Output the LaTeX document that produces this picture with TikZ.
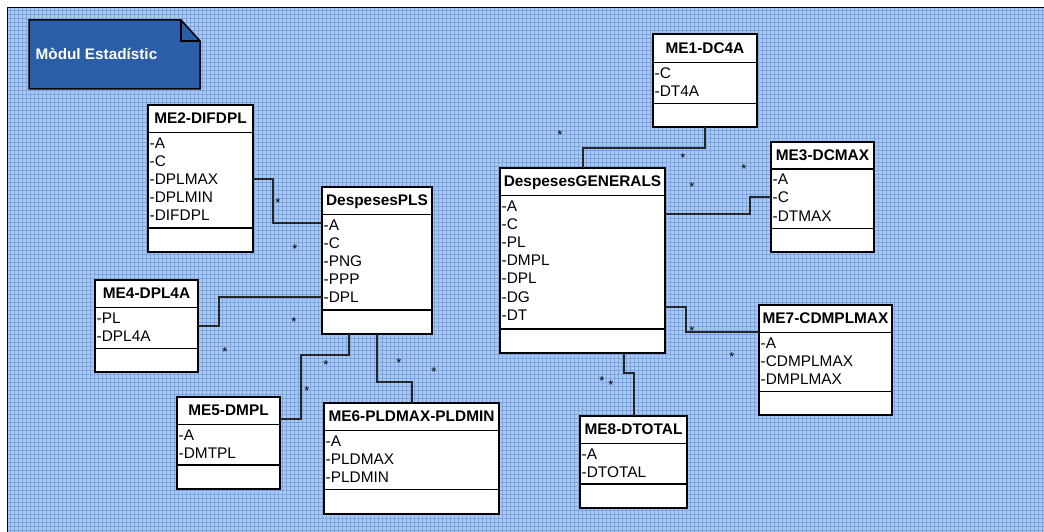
\documentclass[tikz,border=0pt]{standalone}
\usepackage{fontspec}
\setmainfont{Liberation Sans}
\definecolor{bgblue}{RGB}{172,201,241}
\definecolor{gridblue}{RGB}{122,164,228}
\definecolor{notefill}{RGB}{42,94,168}
\tikzset{
  classbox/.style={draw=black, line width=1.4pt, fill=white, inner sep=0pt, outer sep=0pt},
  sepline/.style={draw=black, line width=1.4pt},
  titletxt/.style={font=\bfseries\fontsize{15.4}{18}\selectfont, inner sep=0pt, anchor=base},
  attrtxt/.style={font=\fontsize{15.4}{18}\selectfont, inner sep=0pt, anchor=base west},
  startxt/.style={font=\fontsize{13}{13}\selectfont, inner sep=0pt, anchor=base},
  link/.style={draw=black!85, line width=1.1pt},
  gridln/.style={draw=gridblue, line width=0.9pt},
}
% name, left, top, right, bottom, sep1, sep2, title, attributes
\newcommand{\umlcls}[9]{%
  \node[classbox, minimum width={(#4)-(#2)}, minimum height={(#5)-(#3)}] (#1)
       at ({((#2)+(#4))/2},{((#3)+(#5))/2}) {};
  \draw[sepline] (#2,#6) -- (#4,#6);
  \draw[sepline] (#2,#7) -- (#4,#7);
  \node[titletxt] (#1-t) at ({((#2)+(#4))/2},{((#3)+(#6))/2+5}) {#8};
  \foreach \r [count=\i] in {#9}
    \node[attrtxt] (#1-a\i) at ({(#2)+1.5},{(#6)+15.8+(\i-1)*18.1}) {\r};
}
\begin{document}
\begin{tikzpicture}[x=1pt,y=-1pt]
\useasboundingbox (0,0) rectangle (1044,532);
% background
\fill[bgblue] (7.5,7.5) rectangle (1044,532);
\begin{scope}
  \clip (8,8) rectangle (1044,532);
  \foreach \gx in {10,14,...,1042} \draw[gridln] (\gx,8) -- (\gx,532);
  \foreach \gy in {10,14,...,530} \draw[gridln] (8,\gy) -- (1044,\gy);
\end{scope}
\draw[black, line width=1.8pt] (7.5,532) -- (7.5,7.5) -- (1044,7.5);

% package note
\fill[notefill] (29,20) -- (181,20) -- (200,41) -- (200,89) -- (29,89) -- cycle;
\draw[black, line width=1.5pt] (29,20) -- (181,20) -- (200,41) -- (200,89) -- (29,89) -- cycle;
\draw[black, line width=1.5pt] (181,20) -- (181,41) -- (200,41);
\node[font=\bfseries\fontsize{15.3}{18}\selectfont, text=white, inner sep=0pt, anchor=base west]
  (note) at (35.5,59.5) {Mòdul Estadístic};

% classes
\umlcls{me2}{148}{105}{253}{252}{132.3}{228}{ME2-DIFDPL}{-A,-C,-DPLMAX,-DPLMIN,-DIFDPL}
\umlcls{pls}{322}{187}{432}{334}{214.3}{310}{DespesesPLS}{-A,-C,-PNG,-PPP,-DPL}
\umlcls{me4}{95}{280}{198}{372}{307.3}{348.3}{ME4-DPL4A}{-PL,-DPL4A}
\umlcls{me5}{177}{397}{280}{489}{424.3}{465}{ME5-DMPL}{-A,-DMTPL}
\umlcls{me6}{324}{403}{499}{514}{430.3}{489.7}{ME6-PLDMAX-PLDMIN}{-A,-PLDMAX,-PLDMIN}
\umlcls{dg}{500}{168}{665}{353}{195.7}{329}{DespesesGENERALS}{-A,-C,-PL,-DMPL,-DPL,-DG,-DT}
\umlcls{me1}{653}{34}{757}{127}{62.3}{103.7}{ME1-DC4A}{-C,-DT4A}
\umlcls{me3}{771}{142}{874}{252}{169}{228.7}{ME3-DCMAX}{-A,-C,-DTMAX}
\umlcls{me7}{759}{305}{892}{415}{332.7}{391.7}{ME7-CDMPLMAX}{-A,-CDMPLMAX,-DMPLMAX}
\umlcls{me8}{580}{416}{687}{508}{443.7}{484}{ME8-DTOTAL}{-A,-DTOTAL}

% connectors
\draw[link] (me2.east |- 0,179) -| (273,223) -- (pls.west |- 0,223);
\draw[link] (pls.west |- 0,297) -| (219,326) -- (me4.east |- 0,326);
\draw[link] (pls.south -| 349,0) |- (301,355) |- (me5.east |- 0,419);
\draw[link] (pls.south -| 377,0) |- (412,382) -- (me6.north -| 412,0);
\draw[link] (me1.south -| 705,0) |- (583,148) -- (dg.north -| 583,0);
\draw[link] (dg.east |- 0,214) -| (750,197) -- (me3.west |- 0,197);
\draw[link] (dg.east |- 0,307) -| (686,332) -- (me7.west |- 0,332);
\draw[link] (dg.south -| 624,0) |- (634,373) -- (me8.north -| 634,0);

% multiplicities
\foreach \sx/\sy [count=\k] in {278/200,295/246,294/319,225/349,326/362,307/388,399/360,434/369,
  560/133,683/155,692/184,744/166,692/328,732/354,602/378,611/382}
  \node[startxt] (m\k) at (\sx,\sy+7) {*};
\end{tikzpicture}
\end{document}
